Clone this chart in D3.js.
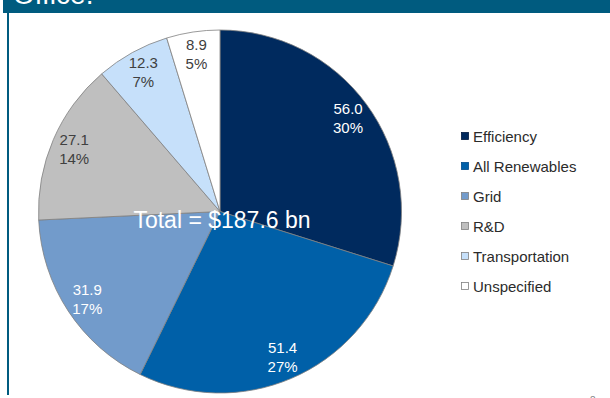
<!DOCTYPE html>
<html>
<head>
<meta charset="utf-8">
<script src="https://cdn.jsdelivr.net/npm/d3@7"></script>
<style>
  html, body { margin: 0; padding: 0; background: #fff; }
  svg { display: block; font-family: "Liberation Sans", Arial, sans-serif; }
</style>
</head>
<body>
<svg id="chart" width="610" height="398"></svg>
<script>
// Stimulus spending by category ($ bn)
const categories = ["Efficiency", "All Renewables", "Grid", "R&D", "Transportation", "Unspecified"];
const values = [56.0, 51.4, 31.9, 27.1, 12.3, 8.9];
const percentLabels = ["30%", "27%", "17%", "14%", "7%", "5%"];
const colors = ["#002a5e", "#0060a8", "#729bcb", "#bfbfbf", "#c6e0fa", "#ffffff"];
const labelColors = ["#ffffff", "#ffffff", "#ffffff", "#404040", "#404040", "#404040"];
const totalLabel = "Total = $187.6 bn";

const svg = d3.select("#chart");
const W = 610, H = 398;

// Slide header band and left rule
svg.append("rect").attr("x", 3).attr("y", 0).attr("width", W - 3).attr("height", 13).attr("fill", "#005b7f");
svg.append("text").attr("x", 13).attr("y", 4).attr("fill", "#ffffff")
  .attr("font-size", 28).text("Office.");
svg.append("rect").attr("x", 7).attr("y", 13).attr("width", 2).attr("height", H - 13 - 3).attr("fill", "#005b7f");

// Pie
const cx = 220, cy = 211.5, r = 181.5;
const g = svg.append("g").attr("transform", `translate(${cx},${cy})`);

const data = categories.map((c, i) => ({ name: c, value: values[i], pct: percentLabels[i], i }));
const pie = d3.pie().value(d => d.value).sort(null);
const arcs = pie(data);
const arc = d3.arc().innerRadius(0).outerRadius(r);
const labelArc = d3.arc().innerRadius(r * 0.875).outerRadius(r * 0.875);

g.selectAll("path.slice").data(arcs).join("path")
  .attr("class", "slice")
  .attr("d", arc)
  .attr("fill", d => colors[d.data.i])
  .attr("stroke", "#808080")
  .attr("stroke-width", 0.8);

const lab = g.selectAll("text.lab").data(arcs).join("text")
  .attr("class", "lab")
  .attr("text-anchor", "middle")
  .attr("font-size", 15)
  .attr("fill", d => labelColors[d.data.i])
  .attr("transform", d => { const [x, y] = labelArc.centroid(d); return `translate(${x},${y})`; });
lab.append("tspan").attr("x", 0).attr("y", -4).text(d => d.data.value.toFixed(1));
lab.append("tspan").attr("x", 0).attr("y", 15).text(d => d.data.pct);

// Total
g.append("text").attr("x", 2).attr("y", 16.5).attr("text-anchor", "middle")
  .attr("font-size", 23).attr("fill", "#ffffff").text(totalLabel);

// Legend
const legend = svg.append("g").attr("transform", "translate(461,136.5)");
const item = legend.selectAll("g").data(data).join("g")
  .attr("transform", (d, i) => `translate(0,${i * 30})`);
item.append("rect").attr("x", 0.5).attr("y", -4).attr("width", 7).attr("height", 7)
  .attr("fill", d => colors[d.i])
  .attr("stroke", d => d.i === 0 ? "#001a40" : d.i === 1 ? "#004a88" : "#808080")
  .attr("stroke-width", 0.8);
item.append("text").attr("x", 12).attr("y", 5.5).attr("font-size", 15)
  .attr("fill", "#2b2b2b").text(d => d.name);

// Page number
svg.append("text").attr("x", 590).attr("y", 404).attr("font-size", 10).attr("fill", "#808080").text("8");
</script>
</body>
</html>
